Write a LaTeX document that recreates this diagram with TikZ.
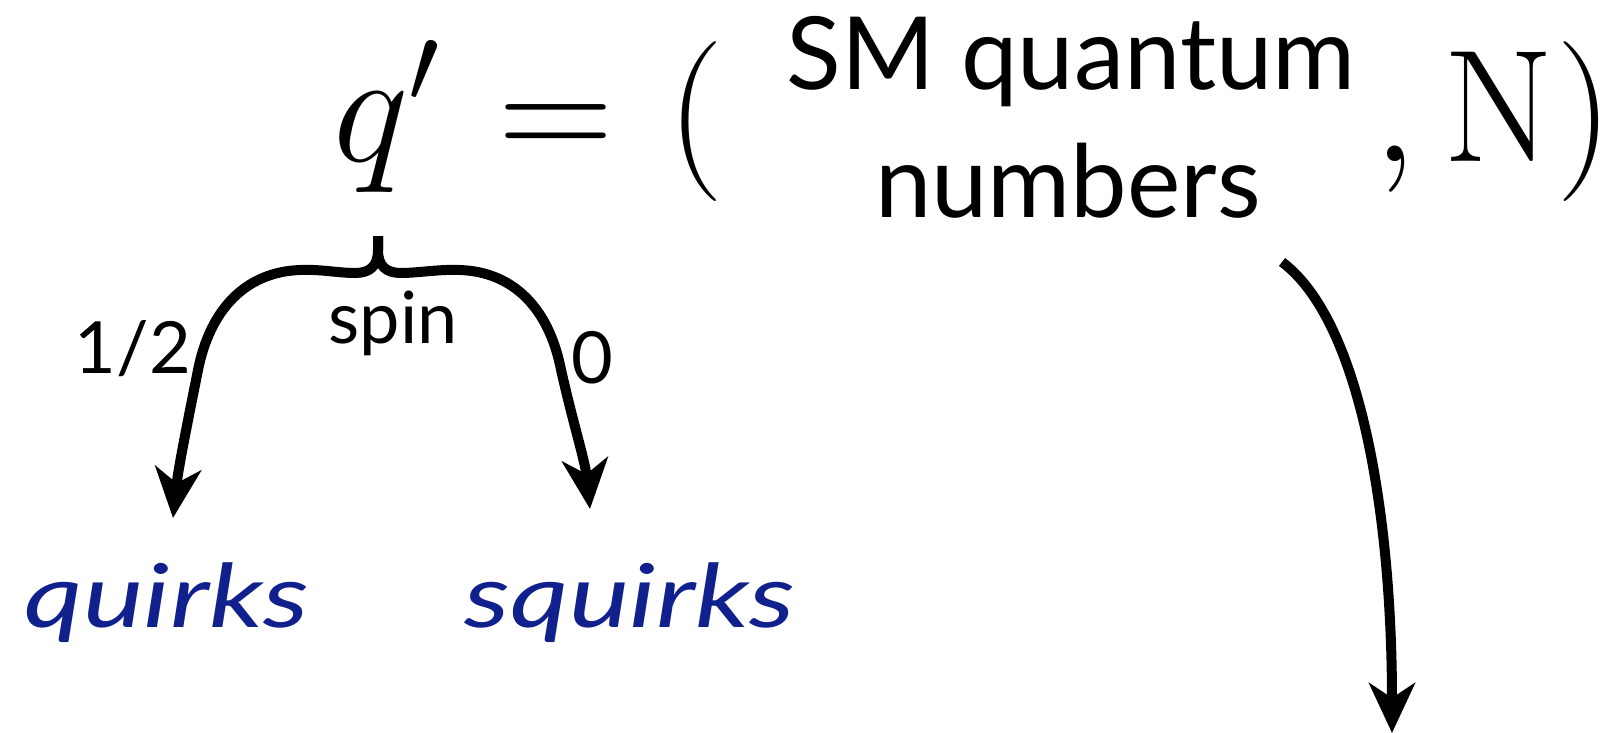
\documentclass[tikz,border=0pt]{standalone}
\usepackage{fontspec}
\setsansfont{Lato}
\newfontfamily\handfont{Lato}
\usepackage{graphicx}
\usetikzlibrary{arrows.meta}
\definecolor{quirkblue}{RGB}{16,32,140}
\newcommand{\bigmath}[1]{\scalebox{9.26}{$#1$}}
\newcommand{\scrawl}[1]{\scalebox{1.3}[1]{#1}}

\begin{document}
\begin{tikzpicture}[x=1pt, y=-1pt,
    big/.style={anchor=base west, inner sep=0pt, font=\fontsize{17.28}{17.28}\selectfont},
    numlabel/.style={anchor=base, inner sep=0pt, font=\sffamily\fontsize{72}{72}\selectfont},
    smtext/.style={anchor=base, inner sep=0pt, font=\sffamily\fontsize{101}{101}\selectfont},
    hand/.style={anchor=base, inner sep=0pt, text=quirkblue, font=\handfont\itshape\fontsize{88}{88}\selectfont},
    spinarrow/.style={line width=10pt, -{Stealth[length=50pt, width=46pt, inset=15pt]}}
  ]
    \useasboundingbox (0,0) rectangle (1614,733);

    \node[big] (q) at (333,161) {\bigmath{q'}};
    \node[big] (eq) at (498,161) {\bigmath{=}};
    \node[big] (lpar) at (667,161) {\bigmath{(}};
    \node[smtext] (smq) at (1071,90) {SM quantum};
    \node[smtext] (num) at (1068,217) {numbers};
    \node[big] (comma) at (1373,161) {\bigmath{,}};
    \node[big] (N) at (1443,161) {\bigmath{\mathrm{N}}};
    \node[big] (rpar) at (1556,161) {\bigmath{)}};

    \node[numlabel] (half) at (133,373) {1/2};
    \node[numlabel] (spin) at (393,343) {spin};
    \node[numlabel] (zero) at (592,383) {0};

    \node[hand] (quirks) at (167,627) {\scrawl{quirks}};
    \node[hand] (squirks) at (630,627) {\scrawl{squirks}};

    \coordinate (btip) at (378,236);
    \coordinate (qin) at (173,518);
    \coordinate (sqin) at (590,509);
    \coordinate (nstart) at (1282,262);
    \coordinate (nend) at (1392,733);

    \draw[spinarrow] (btip) -- (378,250) .. controls (378,266) and (370,273) .. (355,273)
      .. controls (338,273) and (320,269) .. (300,270)
      .. controls (245,272) and (210,310) .. (198,370)
      .. controls (188,420) and (178,470) .. (qin);
    \draw[spinarrow] (btip) -- (378,250) .. controls (378,266) and (386,273) .. (401,273)
      .. controls (418,273) and (440,269) .. (460,270)
      .. controls (515,272) and (548,310) .. (560,365)
      .. controls (572,420) and (585,460) .. (sqin);
    \draw[spinarrow] (nstart) .. controls (1362,322) and (1392,520) .. (nend);
\end{tikzpicture}
\end{document}
